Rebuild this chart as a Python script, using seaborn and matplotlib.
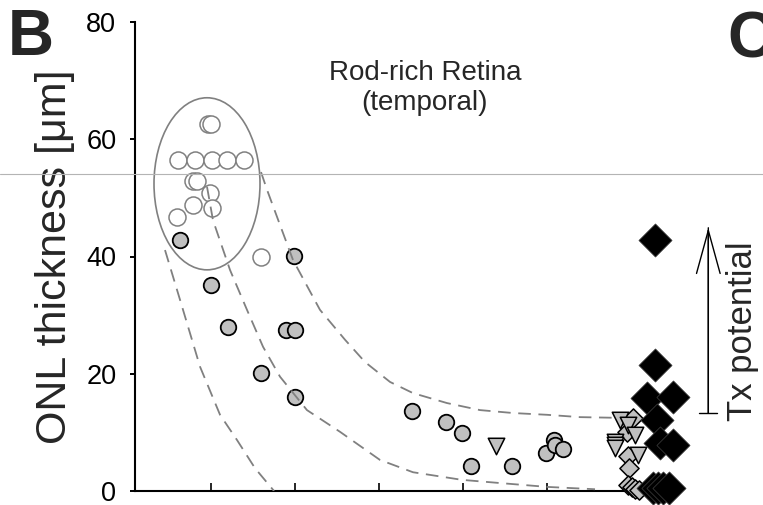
import matplotlib
matplotlib.use("Agg")
import matplotlib.pyplot as plt
import seaborn as sns
import pandas as pd
from matplotlib.patches import Ellipse
from matplotlib.lines import Line2D

# ---------------- data ----------------
# open circles (healthy, inside ellipse)
open_x = [0.971, 1.004, 0.614, 0.813, 1.012, 1.198, 1.396, 0.793, 0.833, 0.992, 0.793, 0.595, 1.012, 1.599]
open_y = [62.6, 62.6, 56.5, 56.5, 56.5, 56.5, 56.5, 52.9, 52.8, 50.8, 48.8, 46.8, 48.2, 40.0]

# grey filled circles
grey_x = [0.631, 0.999, 1.202, 1.599, 1.995, 1.896, 2.004, 2.004, 3.393, 3.798, 3.989, 4.095, 4.590, 4.988, 5.087, 5.099, 5.190]
grey_y = [42.8, 35.1, 28.0, 20.1, 40.1, 27.4, 27.4, 16.0, 13.7, 11.7, 9.9, 4.2, 4.2, 6.4, 8.7, 7.8, 7.2]

# grey down-triangles
tri_x = [4.396, 5.87, 5.97, 5.81, 5.81, 5.81, 6.05, 6.09]
tri_y = [7.7, 12.1, 11.3, 8.4, 7.8, 7.3, 9.6, 6.1]

# grey diamonds
gdia_x = [6.03, 5.95, 5.97, 5.98, 5.97, 6.01, 6.05, 6.10]
gdia_y = [12.5, 10.1, 5.9, 3.9, 1.0, 0.6, 0.3, 0.2]

# black diamonds
bdia_x = [6.29, 6.29, 6.19, 6.50, 6.31, 6.35, 6.50, 6.26, 6.32, 6.38, 6.46]
bdia_y = [42.8, 21.5, 15.9, 16.0, 12.1, 8.2, 7.9, 0.5, 0.5, 0.5, 0.5]

# dashed envelope curves
curveA_x = [0.456, 0.635, 0.873, 1.111, 1.313, 1.527, 1.754]
curveA_y = [41.1, 32.6, 21.2, 13.0, 8.7, 3.9, 0.0]
curveB_x = [0.956, 1.027, 1.230, 1.432, 1.623, 1.825, 2.146, 2.539, 3.015, 3.408, 3.992, 4.408, 5.003, 5.575]
curveB_y = [51.9, 46.2, 37.7, 30.9, 24.6, 19.5, 13.8, 10.1, 5.3, 3.2, 1.9, 1.4, 0.7, 0.3]
curveC_x = [1.599, 1.670, 1.804, 1.980, 2.301, 2.599, 2.837, 3.135, 3.408, 3.813, 4.206, 4.599, 5.003, 5.396, 5.777]
curveC_y = [54.4, 51.4, 46.2, 39.4, 30.9, 25.8, 22.0, 18.6, 16.7, 15.0, 13.8, 13.3, 13.0, 12.6, 12.5]

# ellipse around healthy eyes
ell_center = (0.956, 52.4)
ell_width = 1.262
ell_height = 29.35

# arrow (Tx potential)
arrow_x = 6.924
arrow_top = 44.9
arrow_bottom = 13.26

y_ticks = [0, 20, 40, 60, 80]
x_ticks = [1, 2, 3, 4, 5, 6]

title_text = "Rod-rich Retina\n(temporal)"
ylabel_text = "ONL thickness [\u03bcm]"
arrow_text = "Tx potential"

# ---------------- figure ----------------
sns.set_style("ticks")
plt.rcParams["font.family"] = ["Liberation Sans", "DejaVu Sans"]

W, H = 763, 505
fig = plt.figure(figsize=(W / 100, H / 100), dpi=100)
ax = fig.add_axes([135 / W, 14 / H, (680 - 135) / W, 469 / H])

GREY = "#c0c0c0"
LGREY = "#808080"

def df(x, y):
    return pd.DataFrame({"x": x, "y": y})

sns.scatterplot(data=df(open_x, open_y), x="x", y="y", ax=ax, marker="o", s=150,
                facecolor="white", edgecolor=LGREY, linewidth=1.1, zorder=3, clip_on=False)
sns.scatterplot(data=df(grey_x, grey_y), x="x", y="y", ax=ax, marker="o", s=125,
                color=GREY, edgecolor="black", linewidth=1.3, zorder=3, clip_on=False)
sns.scatterplot(data=df(gdia_x, gdia_y), x="x", y="y", ax=ax, marker="D", s=95,
                color=GREY, edgecolor="black", linewidth=1.1, zorder=3, clip_on=False)
sns.scatterplot(data=df(tri_x, tri_y), x="x", y="y", ax=ax, marker="v", s=140,
                color=GREY, edgecolor="black", linewidth=1.1, zorder=3, clip_on=False)
sns.scatterplot(data=df(bdia_x, bdia_y), x="x", y="y", ax=ax, marker="D", s=285,
                color="black", edgecolor="#404040", linewidth=0.5, zorder=3.5, clip_on=False)

for cx, cy in [(curveA_x, curveA_y), (curveB_x, curveB_y), (curveC_x, curveC_y)]:
    sns.lineplot(data=df(cx, cy), x="x", y="y", ax=ax, sort=False, color=LGREY,
                 linewidth=1.3, linestyle=(0, (7, 4.2)), zorder=4, estimator=None)

ax.add_patch(Ellipse(ell_center, ell_width, ell_height, facecolor="none",
                     edgecolor=LGREY, linewidth=1.2, zorder=4))

ax.set_xlim((135 - 126.7) / 84, (680 - 126.7) / 84)
ax.set_ylim(0, 80)
ax.set_xticks(x_ticks)
ax.set_xticklabels([])
ax.set_yticks(y_ticks)
ax.set_yticklabels([str(t) for t in y_ticks], fontsize=19.5)
ax.tick_params(axis="y", direction="out", length=3.5, width=1.4, pad=10, colors="black")
ax.tick_params(axis="x", direction="in", length=5.5, width=1.4)
for s in ["top", "right"]:
    ax.spines[s].set_visible(False)
for s in ["left", "bottom"]:
    ax.spines[s].set_linewidth(1.5)
    ax.spines[s].set_color("black")
ax.set_xlabel("")
ax.set_ylabel(ylabel_text, fontsize=31, labelpad=8)
ax.patch.set_alpha(0)

ax.text(3.551, 68.8, title_text, ha="center", va="center", fontsize=20, linespacing=1.2)

ax.annotate("", xy=(arrow_x, arrow_top), xytext=(arrow_x, arrow_bottom),
            arrowprops=dict(arrowstyle="->, head_length=31, head_width=8.5",
                            mutation_scale=1, lw=1.0, color="black", shrinkA=0, shrinkB=0),
            annotation_clip=False)
ax.annotate("", xy=(arrow_x, arrow_top), xytext=(arrow_x, arrow_bottom),
            arrowprops=dict(arrowstyle="]-, widthA=6.5, lengthA=0",
                            mutation_scale=1, lw=1.0, color="black", shrinkA=0, shrinkB=0),
            annotation_clip=False)
ax.text(7.33, 27.3, arrow_text, rotation=90, ha="center", va="center", fontsize=25, clip_on=False)

fig.text(8 / W, 1 - 8 / H, "B", fontsize=46, fontweight="bold", ha="left", va="top")
fig.text(727 / W, 1 - 10 / H, "C", fontsize=46, fontweight="bold", ha="left", va="top")

fig.add_artist(Line2D([0, 1], [1 - 174 / H, 1 - 174 / H], transform=fig.transFigure,
                      color="#b4b4b4", linewidth=0.8))

fig.savefig("out.png", dpi=100)
